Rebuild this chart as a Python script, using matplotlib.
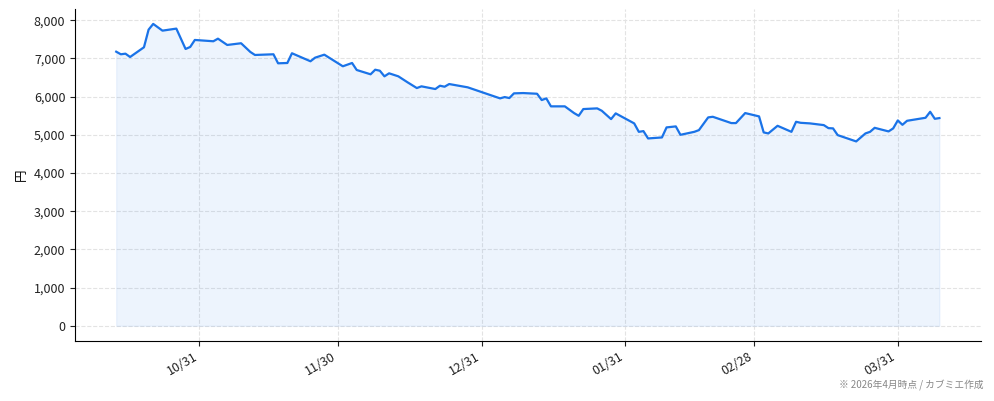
import numpy as np
import pandas as pd
import matplotlib
matplotlib.use("Agg")
import matplotlib.pyplot as plt
import matplotlib.dates as mdates
from matplotlib.ticker import FuncFormatter

plt.rcParams['font.family'] = ['Noto Sans CJK JP', 'DejaVu Sans']

# price data
dates = ["2025-10-13", "2025-10-14", "2025-10-15", "2025-10-16", "2025-10-19",
         "2025-10-20", "2025-10-21", "2025-10-23", "2025-10-26", "2025-10-28",
         "2025-10-29", "2025-10-30", "2025-11-03", "2025-11-04", "2025-11-06",
         "2025-11-09", "2025-11-11", "2025-11-12", "2025-11-16", "2025-11-17",
         "2025-11-19", "2025-11-20", "2025-11-24", "2025-11-25", "2025-11-27",
         "2025-12-01", "2025-12-03", "2025-12-04", "2025-12-07", "2025-12-08",
         "2025-12-09", "2025-12-10", "2025-12-11", "2025-12-13", "2025-12-15",
         "2025-12-17", "2025-12-18", "2025-12-21", "2025-12-22", "2025-12-23",
         "2025-12-24", "2025-12-28", "2026-01-04", "2026-01-05", "2026-01-06",
         "2026-01-07", "2026-01-09", "2026-01-12", "2026-01-13", "2026-01-14",
         "2026-01-15", "2026-01-18", "2026-01-20", "2026-01-21", "2026-01-22",
         "2026-01-25", "2026-01-26", "2026-01-28", "2026-01-29", "2026-02-02",
         "2026-02-03", "2026-02-04", "2026-02-05", "2026-02-08", "2026-02-09",
         "2026-02-11", "2026-02-12", "2026-02-15", "2026-02-16", "2026-02-18",
         "2026-02-19", "2026-02-23", "2026-02-24", "2026-02-26", "2026-03-01",
         "2026-03-02", "2026-03-03", "2026-03-05", "2026-03-08", "2026-03-09",
         "2026-03-10", "2026-03-12", "2026-03-15", "2026-03-16", "2026-03-17",
         "2026-03-18", "2026-03-22", "2026-03-24", "2026-03-25", "2026-03-26",
         "2026-03-29", "2026-03-30", "2026-03-31", "2026-04-01", "2026-04-02",
         "2026-04-06", "2026-04-07", "2026-04-08", "2026-04-09"]
prices = [7175, 7107, 7123, 7036, 7291,
          7752, 7902, 7726, 7779, 7246,
          7299, 7482, 7448, 7516, 7351,
          7396, 7168, 7089, 7107, 6871,
          6879, 7134, 6924, 7018, 7097,
          6793, 6879, 6696, 6583, 6703,
          6677, 6530, 6609, 6530, 6373,
          6223, 6268, 6197, 6284, 6258,
          6328, 6242, 5953, 5987, 5961,
          6084, 6092, 6074, 5909, 5953,
          5744, 5744, 5568, 5497, 5673,
          5691, 5628, 5410, 5560, 5298,
          5077, 5096, 4904, 4930, 5193,
          5219, 4999, 5077, 5122, 5455,
          5471, 5306, 5306, 5568, 5481,
          5062, 5035, 5235, 5077, 5340,
          5313, 5298, 5253, 5174, 5167,
          4991, 4826, 5035, 5077, 5182,
          5088, 5167, 5376, 5261, 5366,
          5445, 5602, 5418, 5437]

tick_dates = ["2025-10-31", "2025-11-30", "2025-12-31",
              "2026-01-31", "2026-02-28", "2026-03-31"]

x = pd.to_datetime(dates)
y = np.array(prices)

fig = plt.figure(figsize=(9.94, 4.01), dpi=100)
ax = fig.add_axes([0.0755, 0.15, 0.911, 0.828])

line_col = '#1a73e8'
ax.fill_between(x, y, 0, color=line_col, alpha=0.08, linewidth=0.8)
ax.plot(x, y, color=line_col, linewidth=1.6)

ax.set_xticks(pd.to_datetime(tick_dates))
ax.xaxis.set_major_formatter(mdates.DateFormatter('%m/%d'))
plt.setp(ax.get_xticklabels(), rotation=30, ha='right')

ax.set_yticks(np.arange(0, 8001, 1000))
ax.yaxis.set_major_formatter(FuncFormatter(lambda v, p: f"{int(v):,}"))
ax.set_ylabel("円", fontsize=9)

ax.tick_params(labelsize=9, colors='#222222')
ax.grid(True, linestyle='--', color='#e3e3e3', linewidth=0.8)
ax.set_axisbelow(True)
for s in ['top', 'right']:
    ax.spines[s].set_visible(False)

fig.text(0.99, 0.028, "※ 2026年4月時点 / カブミエ作成", ha='right', va='bottom',
         fontsize=7, color='#888888')

fig.savefig("out.png", dpi=100)
